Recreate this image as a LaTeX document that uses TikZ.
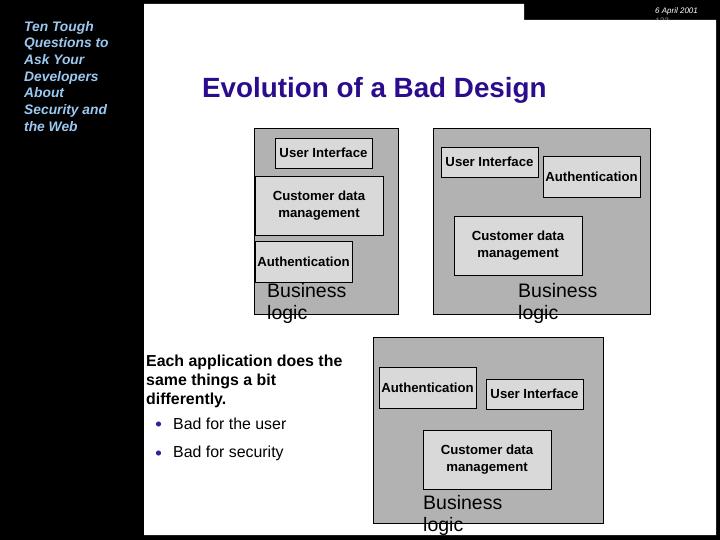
\documentclass[tikz,border=0pt]{standalone}
\usepackage{fontspec}
\setmainfont{Liberation Sans}
\definecolor{outergray}{RGB}{178,178,178}
\definecolor{innergray}{RGB}{217,217,217}
\definecolor{titleblue}{RGB}{42,12,140}
\definecolor{sideblue}{RGB}{155,200,240}
\definecolor{bulletpurple}{RGB}{60,30,150}
\begin{document}
\begin{tikzpicture}[x=1pt,y=-1pt,
  outerbox/.style={draw=black, line width=0.6pt, fill=outergray, inner sep=0pt},
  innerbox/.style={draw=black, line width=0.6pt, fill=innergray, inner sep=0pt, align=center,
    font=\fontsize{13.2}{17}\selectfont\bfseries},
  bizlabel/.style={anchor=west, align=left, inner sep=0pt, font=\fontsize{19.5}{22}\selectfont},
]
\useasboundingbox (0,0) rectangle (720,540);
\fill[black] (0,0) rectangle (720,540);
% date and page number
\node[text=gray, anchor=west, inner sep=0pt, font=\fontsize{8}{9}\itshape] (pg) at (655,21) {123};
\fill[white] (144,4) -- (524,4) -- (524,20) -- (716,20) -- (716,535) -- (144,535) -- cycle;
\node[text=white, anchor=west, inner sep=0pt, font=\fontsize{8}{9}\itshape] (date) at (655,11) {6 April 2001};
% sidebar
\node[text=sideblue, anchor=north west, align=left, inner sep=0pt,
  font=\fontsize{13.8}{16.7}\selectfont\bfseries\itshape] (side) at (24,21)
  {Ten Tough\\Questions to\\Ask Your\\Developers\\About\\Security and\\the Web};
% title
\node[text=titleblue, anchor=west, inner sep=0pt, font=\fontsize{27.8}{32}\selectfont\bfseries] (title) at (202,90)
  {Evolution of a Bad Design};
% box 1
\node[outerbox, minimum width=144, minimum height=186] (b1) at (326,221) {};
\node[innerbox, minimum width=97, minimum height=30] (ui1) at (323.5,153) {User Interface};
\node[innerbox, minimum width=128, minimum height=59] (cdm1) at (319,205.5) {Customer data\\management};
\node[innerbox, minimum width=97, minimum height=41] (au1) at (303.5,261.5) {Authentication};
\node[bizlabel] (bl1) at (267,303) {Business\\logic};
% box 2
\node[outerbox, minimum width=217, minimum height=186] (b2) at (541.5,221) {};
\node[innerbox, minimum width=97, minimum height=30] (ui2) at (489.5,162) {User Interface};
\node[innerbox, minimum width=97, minimum height=41] (au2) at (591.5,176.5) {Authentication};
\node[innerbox, minimum width=128, minimum height=59] (cdm2) at (518,245.5) {Customer data\\management};
\node[bizlabel] (bl2) at (518,303) {Business\\logic};
% box 3
\node[outerbox, minimum width=230, minimum height=186] (b3) at (488,430) {};
\node[innerbox, minimum width=97, minimum height=41] (au3) at (427.5,387.5) {Authentication};
\node[innerbox, minimum width=97, minimum height=30] (ui3) at (534.5,394) {User Interface};
\node[innerbox, minimum width=128, minimum height=59] (cdm3) at (487,459.5) {Customer data\\management};
\node[bizlabel] (bl3) at (423,515) {Business\\logic};
% left text
\node[anchor=north west, align=left, inner sep=0pt, font=\fontsize{15.9}{19}\selectfont\bfseries] (each) at (146,355)
  {Each application does the\\same things a bit\\differently.};
\fill[bulletpurple] (158.5,424) circle (2.6);
\node[anchor=west, inner sep=0pt, font=\fontsize{15.9}{17}\selectfont] (bu1) at (173,424) {Bad for the user};
\fill[bulletpurple] (158.5,453) circle (2.6);
\node[anchor=west, inner sep=0pt, font=\fontsize{15.9}{17}\selectfont] (bu2) at (173,453) {Bad for security};
\end{tikzpicture}
\end{document}
